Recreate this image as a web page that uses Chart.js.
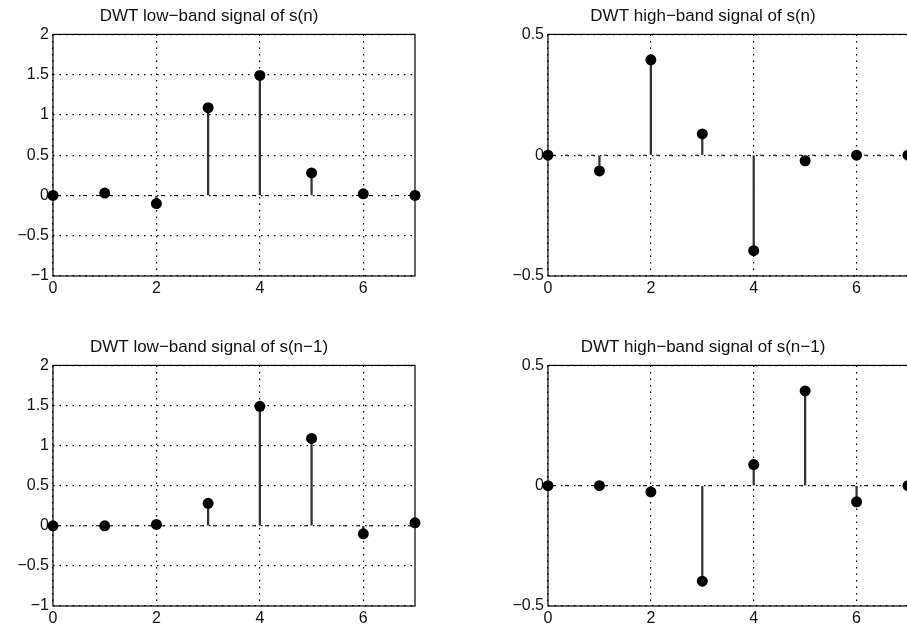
<!DOCTYPE html>
<html>
<head>
<meta charset="utf-8">
<script src="https://cdn.jsdelivr.net/npm/chart.js@4.4.1/dist/chart.umd.min.js"></script>
<style>
  html, body { margin: 0; padding: 0; background: #fff; overflow: hidden; width: 907px; height: 631px; position: relative; }
  canvas { position: absolute; }
</style>
</head>
<body>
<canvas id="lowS" width="422" height="300" style="left:3px;top:0px"></canvas>
<canvas id="highS" width="420" height="300" style="left:498px;top:0px"></canvas>
<canvas id="lowS1" width="422" height="299" style="left:3px;top:331px"></canvas>
<canvas id="highS1" width="420" height="299" style="left:498px;top:331px"></canvas>
<script>
// sample index n
const n = [0, 1, 2, 3, 4, 5, 6, 7];

// DWT coefficients
const lowBandS = [0, 0.03, -0.1, 1.09, 1.49, 0.28, 0.02, 0];
const highBandS = [0, -0.065, 0.395, 0.088, -0.395, -0.023, 0, 0];
const lowBandS1 = [0, 0, 0.017, 0.28, 1.49, 1.09, -0.1, 0.037];
const highBandS1 = [0, 0, -0.026, -0.397, 0.088, 0.394, -0.067, 0];

// tick labels
const xTicks = [0, 2, 4, 6];
const lowTicks = [-1, -0.5, 0, 0.5, 1, 1.5, 2];
const highTicks = [-0.5, 0, 0.5];

const fontFamily = '"Liberation Sans", Arial, Helvetica, sans-serif';
const ink = '#111';

// matlab style minus sign
const fmt = (v) => String(v).replace('-', '\u2212');

// solid box round the plot area
const framePlugin = {
  id: 'frame',
  beforeDatasetsDraw(chart) {
    const { ctx, chartArea: a } = chart;
    ctx.save();
    ctx.strokeStyle = '#000';
    ctx.lineWidth = 1.2;
    ctx.strokeRect(a.left, a.top, a.right - a.left, a.bottom - a.top);
    ctx.restore();
  },
};

const stemChart = (id, title, values, yTicks) => {
  const pts = n.map((x, i) => ({ x, y: values[i] }));
  new Chart(document.getElementById(id), {
    type: 'scatter',
    data: {
      datasets: [
        {
          type: 'scatter',
          data: pts,
          backgroundColor: '#000',
          borderWidth: 0,
          pointRadius: 5.5,
          clip: false,
          order: 1,
        },
        {
          type: 'bar',
          data: pts,
          backgroundColor: '#333',
          borderWidth: 0,
          barThickness: 1.6,
          clip: false,
          order: 2,
        },
        { // stem baseline
          type: 'line',
          data: [{ x: n[0], y: 0 }, { x: n[n.length - 1], y: 0 }],
          borderColor: '#000',
          borderWidth: 1,
          borderDash: [3, 10],
          borderDashOffset: -4,
          pointRadius: 0,
          order: 3,
        },
      ],
    },
    options: {
      responsive: false,
      animation: false,
      layout: { padding: { left: 0, right: 10, top: 0, bottom: 0 } },
      plugins: {
        legend: { display: false },
        tooltip: { enabled: false },
        title: {
          display: true,
          text: title,
          color: ink,
          font: { family: fontFamily, size: 17, weight: 'normal' },
          padding: { top: 6, bottom: 8 },
        },
      },
      scales: {
        x: {
          type: 'linear',
          min: n[0],
          max: n[n.length - 1],
          offset: false,
          afterBuildTicks: (s) => { s.ticks = xTicks.map((v) => ({ value: v })); },
          afterFit: (s) => { s.height = 24; },
          ticks: {
            color: ink,
            font: { family: fontFamily, size: 16 },
            padding: 3,
            maxRotation: 0,
            callback: fmt,
          },
          grid: { offset: false, color: '#000', lineWidth: 1.2, drawTicks: false },
          border: { display: false, dash: [1.5, 5] },
        },
        y: {
          type: 'linear',
          min: yTicks[0],
          max: yTicks[yTicks.length - 1],
          afterBuildTicks: (s) => { s.ticks = yTicks.map((v) => ({ value: v })); },
          afterFit: (s) => { s.width = 50; },
          ticks: {
            color: ink,
            font: { family: fontFamily, size: 16 },
            padding: 4,
            callback: fmt,
          },
          grid: { color: '#000', lineWidth: 1.2, drawTicks: false },
          border: { display: false, dash: [1.5, 5] },
        },
      },
    },
    plugins: [framePlugin],
  });
};

stemChart('lowS', 'DWT low\u2212band signal of s(n)', lowBandS, lowTicks);
stemChart('highS', 'DWT high\u2212band signal of s(n)', highBandS, highTicks);
stemChart('lowS1', 'DWT low\u2212band signal of s(n\u22121)', lowBandS1, lowTicks);
stemChart('highS1', 'DWT high\u2212band signal of s(n\u22121)', highBandS1, highTicks);
</script>
</body>
</html>
